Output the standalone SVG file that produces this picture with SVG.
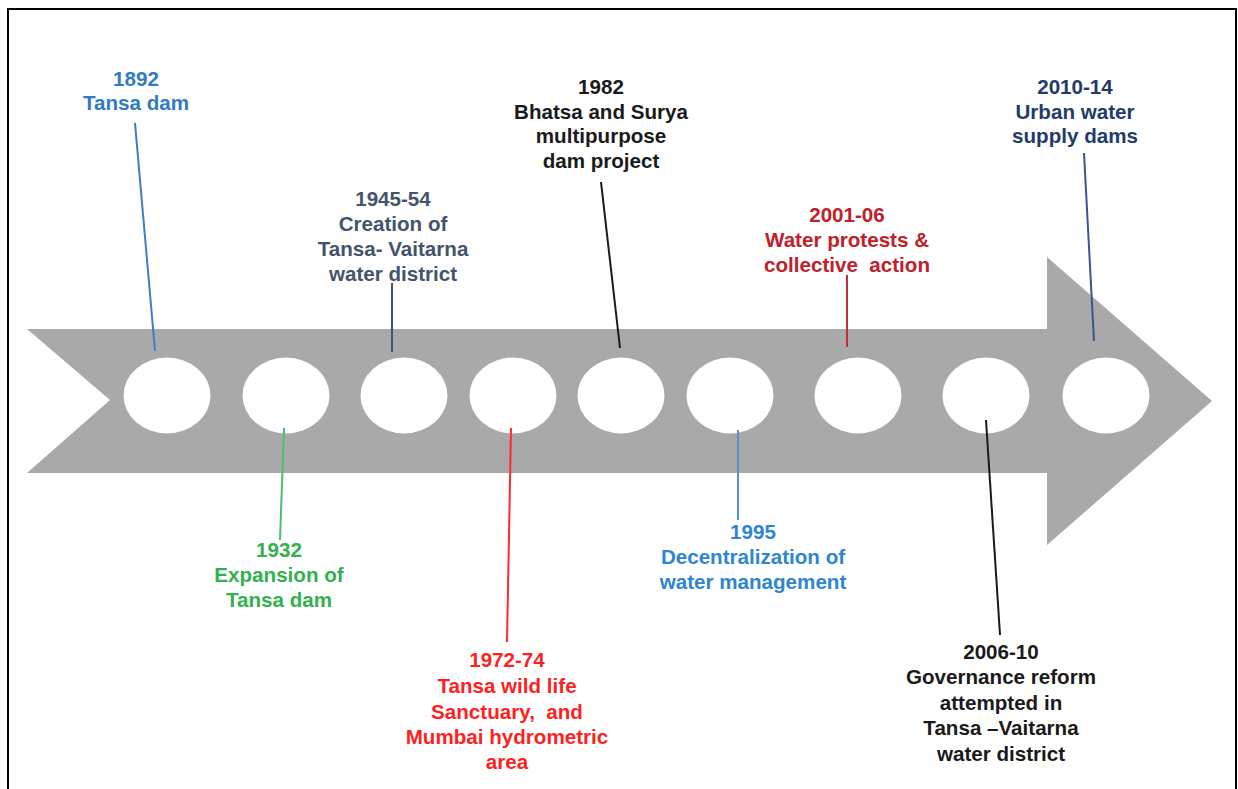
<svg xmlns="http://www.w3.org/2000/svg" width="1238" height="789" viewBox="0 0 1238 789">
<style>
text{font-family:"Liberation Sans",Arial,sans-serif;font-weight:700;font-size:20.6px;text-anchor:middle}
.c{stroke-width:2;fill:none}
.hole{fill:#ffffff}
</style>
<rect x="0" y="0" width="1238" height="789" fill="#ffffff"/>
<rect x="8" y="9" width="1228" height="790" fill="none" stroke="#000" stroke-width="2"/>
<g id="arrow">
<path d="M27,329 L1047,329 L1047,257 L1212,401 L1047,545 L1047,473 L27,473 L110,400 Z" fill="#a9a9a9"/>
<ellipse class="hole" cx="167" cy="395.5" rx="43.5" ry="38"/>
<ellipse class="hole" cx="286" cy="395.5" rx="43.5" ry="38"/>
<ellipse class="hole" cx="404" cy="395.5" rx="43.5" ry="38"/>
<ellipse class="hole" cx="513" cy="395.5" rx="43.5" ry="38"/>
<ellipse class="hole" cx="621" cy="395.5" rx="43.5" ry="38"/>
<ellipse class="hole" cx="730" cy="395.5" rx="43.5" ry="38"/>
<ellipse class="hole" cx="858" cy="395.5" rx="43.5" ry="38"/>
<ellipse class="hole" cx="986" cy="395.5" rx="43.5" ry="38"/>
<ellipse class="hole" cx="1106" cy="395.5" rx="43.5" ry="38"/>
</g>
<g id="connectors">
<line class="c" x1="135" y1="123" x2="155" y2="351" stroke="#3c7fc4"/>
<line class="c" x1="284" y1="428" x2="280" y2="540" stroke="#4cbf6a"/>
<line class="c" x1="392" y1="283" x2="392" y2="352" stroke="#44546a"/>
<line class="c" x1="511" y1="428" x2="507" y2="642" stroke="#ff2a2a"/>
<line class="c" x1="601" y1="182" x2="620" y2="348" stroke="#1a1a1a"/>
<line class="c" x1="738" y1="430" x2="738" y2="520" stroke="#5b8fc9"/>
<line class="c" x1="847" y1="275" x2="847" y2="347" stroke="#c0303a"/>
<line class="c" x1="986" y1="420" x2="1000" y2="635" stroke="#1a1a1a"/>
<line class="c" x1="1084" y1="153" x2="1094" y2="341" stroke="#3c5591"/>
</g>
<g id="e1892" fill="#2f7bc4">
<text x="136" y="86">1892</text>
<text x="136" y="110">Tansa dam</text>
</g>
<g id="e1932" fill="#33b04f">
<text x="279" y="557">1932</text>
<text x="279" y="582">Expansion of</text>
<text x="279" y="607">Tansa dam</text>
</g>
<g id="e1945" fill="#44546a">
<text x="393" y="206">1945-54</text>
<text x="393" y="231">Creation of</text>
<text x="393" y="256">Tansa- Vaitarna</text>
<text x="393" y="281">water district</text>
</g>
<g id="e1972" fill="#ff1f1f">
<text x="507" y="667">1972-74</text>
<text x="507" y="693">Tansa wild life</text>
<text x="507" y="719" xml:space="preserve">Sanctuary,  and</text>
<text x="507" y="744">Mumbai hydrometric</text>
<text x="507" y="769">area</text>
</g>
<g id="e1982" fill="#1a1a1a">
<text x="601" y="94">1982</text>
<text x="601" y="119">Bhatsa and Surya</text>
<text x="601" y="143">multipurpose</text>
<text x="601" y="168">dam project</text>
</g>
<g id="e1995" fill="#2e86d0">
<text x="753" y="539">1995</text>
<text x="753" y="564">Decentralization of</text>
<text x="753" y="589">water management</text>
</g>
<g id="e2001" fill="#c0202a">
<text x="847" y="222">2001-06</text>
<text x="847" y="247">Water protests &amp;</text>
<text x="847" y="272" xml:space="preserve">collective  action</text>
</g>
<g id="e2006" fill="#1a1a1a">
<text x="1001" y="659">2006-10</text>
<text x="1001" y="684">Governance reform</text>
<text x="1001" y="710">attempted in</text>
<text x="1001" y="735">Tansa –Vaitarna</text>
<text x="1001" y="761">water district</text>
</g>
<g id="e2010" fill="#233a6b">
<text x="1075" y="94">2010-14</text>
<text x="1075" y="119">Urban water</text>
<text x="1075" y="143">supply dams</text>
</g>
</svg>
